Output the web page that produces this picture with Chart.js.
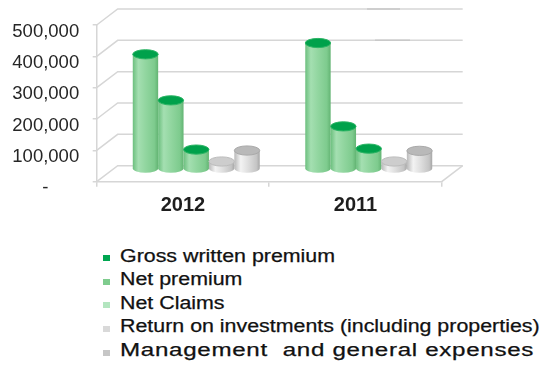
<!DOCTYPE html>
<html>
<head>
<meta charset="utf-8">
<script src="https://cdn.jsdelivr.net/npm/chart.js@4"></script>
<style>
  html, body { margin: 0; padding: 0; background: #fff; }
  #wrap { position: relative; width: 543px; height: 376px; overflow: hidden; background: #fff; }
  #c { position: absolute; left: 0; top: 0; }
  .row { position: absolute; left: 0; height: 20px; width: 543px; }
  .mark { position: absolute; left: 103px; width: 7px; height: 6px; }
  .txt { position: absolute; left: 120px; top: 0; white-space: pre; font: 17.5px "Liberation Sans", Arial, sans-serif;
         line-height: 20px; color: #111; -webkit-text-stroke: 0.25px #111;
         transform: scaleX(1.222); transform-origin: 0 0; }
  .txt.wide { transform: scaleX(1.38); letter-spacing: 0.5px; }
</style>
</head>
<body>
<div id="wrap">
  <canvas id="c" width="543" height="230"></canvas>
  <div id="legend"></div>
</div>
<script>
// Premiums, claims, investment returns and expenses by year
const categories = ['2012', '2011'];
const seriesNames = [
  'Gross written premium',
  'Net premium',
  'Net Claims',
  'Return on investments (including properties)',
  'Management  and general expenses'
];
const grossWrittenPremium = [366000, 402000];
const netPremium = [219000, 136000];
const netClaims = [62000, 65000];
const returnOnInvestments = [24000, 24000];
const managementExpenses = [59000, 58000];
const yTickValues = [0, 100000, 200000, 300000, 400000, 500000];
const yTickLabels = ['-      ', '100,000', '200,000', '300,000', '400,000', '500,000'];

// Legend swatches and cylinder shading
const legendColors = ['#00a651', '#7fcc8e', '#b3e5bf', '#d9d9d9', '#c6c6c6'];
const greenBody = [[0, '#6cbf7e'], [0.22, '#a4dfb1'], [0.5, '#92d6a0'], [0.85, '#7ecb8e'], [1, '#63b473']];
const grayBody = [[0, '#b9b9b9'], [0.25, '#f3f3f3'], [0.55, '#dedede'], [0.88, '#c4c4c4'], [1, '#a6a6a6']];
const shading = [
  { body: greenBody, top: '#00a14b', rim: '#2bb464' },
  { body: greenBody, top: '#00a14b', rim: '#2bb464' },
  { body: greenBody, top: '#00a14b', rim: '#2bb464' },
  { body: grayBody, top: '#cdcdcd', rim: '#bcbcbc' },
  { body: grayBody, top: '#b9b9b9', rim: '#a9a9a9' }
];

const seriesValues = [grossWrittenPremium, netPremium, netClaims, returnOnInvestments, managementExpenses];

// depth of the box (back wall offset) and of the bar row inside it
const DEPTH_X = 21, DEPTH_Y = -16;
const BAR_X = 13.3, BAR_Y = -12.7, CAP_RY = 4.6;
const GRID = '#d6d6d6';

const box3d = {
  id: 'box3d',
  beforeDatasetsDraw(chart) {
    const { ctx, chartArea: a } = chart;
    const y = chart.scales.y;
    ctx.save();
    ctx.strokeStyle = GRID;
    ctx.lineWidth = 1.5;
    y.ticks.forEach(t => {
      const py = y.getPixelForValue(t.value);
      ctx.beginPath();
      ctx.moveTo(a.left, py);
      ctx.lineTo(a.left + DEPTH_X, py + DEPTH_Y);
      ctx.lineTo(a.right + DEPTH_X, py + DEPTH_Y);
      ctx.stroke();
    });
    // right edge of the floor
    const p0 = y.getPixelForValue(0);
    ctx.beginPath();
    ctx.moveTo(a.right, p0);
    ctx.lineTo(a.right + DEPTH_X, p0 + DEPTH_Y);
    ctx.stroke();
    // slightly darker strokes on the two upper back-wall lines
    ctx.strokeStyle = '#c9c9c9';
    [[500000, 367, 400], [400000, 375, 410]].forEach(([v, xa, xb]) => {
      const py = y.getPixelForValue(v) + DEPTH_Y;
      ctx.beginPath();
      ctx.moveTo(xa, py);
      ctx.lineTo(xb, py);
      ctx.stroke();
    });
    ctx.restore();

    // cylinders, placed from the bar elements
    chart.data.datasets.forEach((ds, i) => {
      const meta = chart.getDatasetMeta(i);
      const sh = shading[i];
      meta.data.forEach(bar => {
        const cx = bar.x + BAR_X;
        const w = bar.width;
        const yTop = bar.y + BAR_Y;
        const yBase = bar.base + BAR_Y;
        const x0 = cx - w / 2, x1 = cx + w / 2;
        const g = ctx.createLinearGradient(x0, 0, x1, 0);
        sh.body.forEach(([o, c]) => g.addColorStop(o, c));
        ctx.save();
        ctx.beginPath();
        ctx.moveTo(x0, yTop);
        ctx.lineTo(x0, yBase);
        ctx.ellipse(cx, yBase, w / 2, CAP_RY, 0, Math.PI, 0, true);
        ctx.lineTo(x1, yTop);
        ctx.closePath();
        ctx.fillStyle = g;
        ctx.fill();
        ctx.beginPath();
        ctx.ellipse(cx, yTop, w / 2, CAP_RY, 0, 0, Math.PI * 2);
        ctx.fillStyle = sh.top;
        ctx.fill();
        ctx.lineWidth = 1;
        ctx.strokeStyle = sh.rim;
        ctx.stroke();
        ctx.restore();
      });
    });
    return false;
  }
};

const chart = new Chart(document.getElementById('c'), {
  type: 'bar',
  data: {
    labels: categories,
    datasets: seriesNames.map((name, i) => ({
      label: name,
      data: seriesValues[i],
      backgroundColor: legendColors[i],
      categoryPercentage: 0.736,
      barPercentage: 1
    }))
  },
  options: {
    responsive: false,
    animation: false,
    devicePixelRatio: 1,
    events: [],
    layout: { padding: { left: 0, right: 101.3, top: 25, bottom: 8.3 } },
    plugins: { legend: { display: false }, tooltip: { enabled: false } },
    scales: {
      x: {
        grid: { display: true, drawOnChartArea: false, drawTicks: true, tickLength: 5, color: GRID, lineWidth: 1.5, offset: true },
        border: { display: true, color: GRID, width: 1.5 },
        ticks: { font: { family: 'Liberation Sans, Arial, sans-serif', size: 20, weight: 'bold' }, color: '#1e1e1e', padding: 7 },
        afterFit(s) { s.height = 40; }
      },
      y: {
        min: 0,
        max: 500000,
        afterBuildTicks(s) { s.ticks = yTickValues.map(v => ({ value: v })); },
        ticks: {
          callback: (v) => yTickLabels[yTickValues.indexOf(v)],
          font: { family: 'Liberation Sans, Arial, sans-serif', size: 18.5 },
          color: '#262626',
          padding: 13.5,
          labelOffset: 6.5
        },
        grid: { drawOnChartArea: false, drawTicks: true, tickLength: 4, color: GRID, lineWidth: 1.5 },
        border: { display: true, color: GRID, width: 1.5 },
        afterFit(s) { s.width = 96.7; }
      }
    }
  },
  plugins: [box3d]
});

// legend rows below the plot, one series per line
const legend = document.getElementById('legend');
chart.data.datasets.forEach((ds, i) => {
  const baseline = 261.7 + i * 23.6;
  const row = document.createElement('div');
  row.className = 'row';
  row.style.top = (baseline - 16.06) + 'px';
  const mark = document.createElement('span');
  mark.className = 'mark';
  mark.style.background = ds.backgroundColor;
  mark.style.top = (16.06 - 3.5 - 3) + 'px';
  const txt = document.createElement('span');
  txt.className = i === chart.data.datasets.length - 1 ? 'txt wide' : 'txt';
  txt.textContent = ds.label;
  row.appendChild(mark);
  row.appendChild(txt);
  legend.appendChild(row);
});
</script>
</body>
</html>
